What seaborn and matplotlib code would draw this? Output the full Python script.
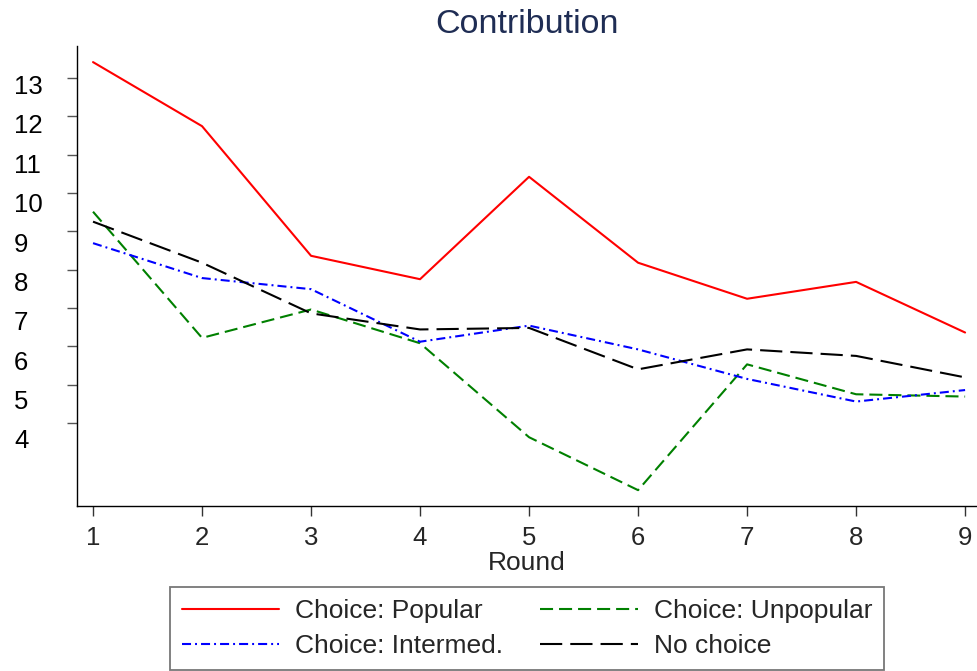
import matplotlib
matplotlib.use("Agg")
import matplotlib.pyplot as plt
from matplotlib.transforms import ScaledTranslation, blended_transform_factory
from matplotlib.lines import Line2D
import numpy as np
import pandas as pd
import seaborn as sns

# Mean contribution per round for each treatment group
rounds = [1, 2, 3, 4, 5, 6, 7, 8, 9]
popular = [13.41, 11.74, 8.36, 7.75, 10.42, 8.18, 7.24, 7.68, 6.36]
unpopular = [9.51, 6.22, 6.96, 6.08, 3.63, 2.25, 5.53, 4.75, 4.69]
intermed = [8.69, 7.78, 7.49, 6.12, 6.54, 5.92, 5.15, 4.56, 4.86]
no_choice = [9.25, 8.18, 6.86, 6.44, 6.48, 5.40, 5.92, 5.75, 5.19]

groups = ["Choice: Popular", "Choice: Unpopular", "Choice: Intermed.", "No choice"]
y_ticks = [4, 5, 6, 7, 8, 9, 10, 11, 12, 13]

df = pd.DataFrame({
    "Round": rounds * 4,
    "Contribution": popular + unpopular + intermed + no_choice,
    "Group": sum([[g] * len(rounds) for g in groups], []),
})

sns.set_theme(style="ticks")
plt.rcParams["font.family"] = ["Liberation Sans", "DejaVu Sans"]
plt.rcParams["lines.scale_dashes"] = False

colors = {
    "Choice: Popular": "#ff0000",
    "Choice: Unpopular": "#008000",
    "Choice: Intermed.": "#0000ff",
    "No choice": "#000000",
}
dashes = {
    "Choice: Popular": "",
    "Choice: Unpopular": (9.4, 4.3),
    "Choice: Intermed.": (6.5, 2.9, 1.4, 2.9),
    "No choice": (16.0, 5.8),
}

W, H = 977, 671
fig = plt.figure(figsize=(W / 100, H / 100), dpi=100)
ax = fig.add_axes([77 / W, 1 - 506 / H, (976 - 77) / W, (506 - 46) / H])

sns.lineplot(data=df, x="Round", y="Contribution", hue="Group", style="Group",
             palette=colors, dashes=dashes, hue_order=groups, style_order=groups,
             linewidth=1.5, ax=ax, legend=False)

ax.set_xlim(0.853, 9.10)
ax.set_ylim(1.837, 13.83)

for side in ["top", "right"]:
    ax.spines[side].set_visible(False)
for side in ["left", "bottom"]:
    ax.spines[side].set_linewidth(1.0)
    ax.spines[side].set_color("#000000")

ax.set_xticks(rounds)
ax.set_xticklabels([str(r) for r in rounds])
ax.tick_params(axis="x", length=7.2, width=1.0, color="#333333", labelsize=18.5, pad=7)
ax.set_yticks(y_ticks)
ax.set_yticklabels([])
ax.tick_params(axis="y", length=7.2, width=1.0, color="#555555")

# Y tick labels, left-aligned at the figure edge
ytrans = blended_transform_factory(fig.transFigure, ax.transData)
for v in y_ticks:
    drop_px = 7 + (13 - v) * 1.0 + 9.3
    t = ytrans + ScaledTranslation(0, -drop_px / 100, fig.dpi_scale_trans)
    ax.text(14 / W, v, str(v), transform=t, ha="left", va="baseline",
            fontsize=18.5, color="#000000")

ax.set_xlabel("Round", fontsize=19, labelpad=1)
ax.set_ylabel("")

fig.text(527 / W, 1 - 33 / H, "Contribution", ha="center", va="baseline",
         fontsize=24.5, color="#1f2d54")

handles = []
for g in groups:
    if dashes[g]:
        handles.append(Line2D([], [], color=colors[g], linewidth=1.5, dashes=dashes[g]))
    else:
        handles.append(Line2D([], [], color=colors[g], linewidth=1.5, linestyle="-"))
order = [0, 2, 1, 3]
leg = fig.legend([handles[i] for i in order], [groups[i] for i in order],
                 loc="upper center", bbox_to_anchor=(527 / W, 1 - 587 / H),
                 borderaxespad=0, ncol=2, fontsize=19, frameon=True, fancybox=False,
                 handlelength=3.7, handletextpad=0.6, columnspacing=1.4,
                 labelspacing=0.43, borderpad=0.45)
leg.get_frame().set_edgecolor("#555555")
leg.get_frame().set_linewidth(1.3)

fig.savefig("out.png", dpi=100)
